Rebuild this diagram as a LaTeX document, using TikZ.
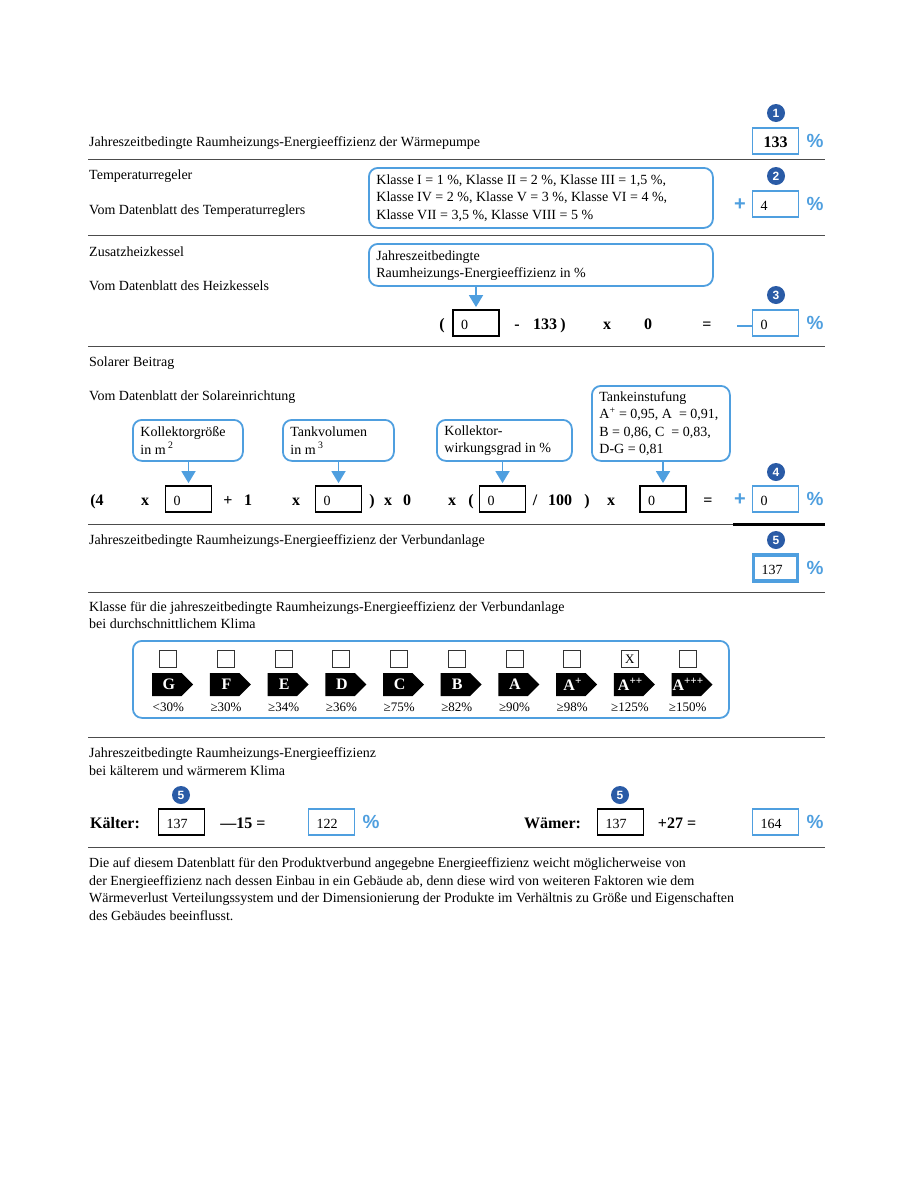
\documentclass[tikz,border=0pt]{standalone}
\usepackage{fontspec}
\setmainfont{Liberation Serif}
\newfontfamily\signfont{Liberation Sans}
\usetikzlibrary{arrows.meta,shapes.symbols}
\definecolor{sheetblue}{HTML}{4F9FDF}
\definecolor{dotblue}{HTML}{2A5BA6}
\tikzset{%
  plain/.style    = {anchor=base west, inner sep=0pt, align=left, font=\fontsize{14}{17.5}\selectfont},%
  callout/.style  = {plain, anchor=north west, align=flush left, draw=sheetblue, line width=1.8pt, rounded corners=9pt, inner xsep=7.5pt},%
  arrowline/.style= {draw=sheetblue, line width=1.8pt, -{Triangle[width=14pt,length=12pt]}, shorten >=2pt},%
  valbox/.style   = {rectangle, draw, line width=1.8pt, minimum height=26pt, inner xsep=8pt, inner ysep=0pt,%
                     text width=30pt, text height=14pt, text depth=2pt, align=left, font=\fontsize{14}{15}\selectfont},%
  bluebox/.style  = {valbox, draw=sheetblue},%
  blackbox/.style = {valbox, draw=black},%
  numdot/.style   = {circle, fill=dotblue, text=white, inner sep=0pt, minimum size=18pt, font=\fontsize{12}{12}\bfseries\signfont},%
  percent/.style  = {text=sheetblue, inner sep=0pt, font=\fontsize{19}{19}\bfseries\signfont},%
  bluesign/.style = {text=sheetblue, inner sep=0pt, font=\fontsize{20}{20}\bfseries\signfont},%
  op/.style       = {anchor=base, inner sep=0pt, font=\fontsize{16}{16}\bfseries\selectfont},%
  rule/.style     = {draw=black!70, line width=1pt},%
  tickbox/.style  = {rectangle, draw=black!80, line width=1pt, minimum size=17pt, inner sep=0pt, font=\fontsize{12}{12}\selectfont},%
  classtag/.style = {signal, signal to=east, anchor=west, fill=black, inner sep=0pt, minimum width=41pt, minimum height=23pt},%
  tagtext/.style  = {text=white, inner sep=0pt, font=\fontsize{16}{16}\bfseries\selectfont},%
  tagpct/.style   = {inner sep=0pt, font=\fontsize{13}{13}\selectfont}%
}
\begin{document}
\begin{tikzpicture}[x=1pt,y=-1pt]
	\useasboundingbox (0,0) rectangle (906,1202);
	% rules
	\foreach \y in {159.5,235.5,346,524,592.5,737.5,847.5}
		\draw[rule] (88,\y) -- (825,\y);
	\draw[line width=3pt] (733,524) -- (825,524);
	% left texts
	\node[plain] (heatpump) at (89,146) {Jahreszeitbedingte Raumheizungs-Energieeffizienz der Wärmepumpe};
	\node[plain] (control) at (89,179) {Temperaturregeler};
	\node[plain] (controlsheet) at (89,214) {Vom Datenblatt des Temperaturreglers};
	\node[plain] (boiler) at (89,256) {Zusatzheizkessel};
	\node[plain] (boilersheet) at (89,290) {Vom Datenblatt des Heizkessels};
	\node[plain] (solar) at (89,366) {Solarer Beitrag};
	\node[plain] (solarsheet) at (89,400) {Vom Datenblatt der Solareinrichtung};
	\node[plain] (system) at (89,544) {Jahreszeitbedingte Raumheizungs-Energieeffizienz der Verbundanlage};
	\node[plain] (classtitle) at (89,628.5) {Klasse für die jahreszeitbedingte Raumheizungs-Energieeffizienz der Verbundanlage\\bei durchschnittlichem Klima};
	\node[plain] (climate) at (89,775) {Jahreszeitbedingte Raumheizungs-Energieeffizienz\\bei kälterem und wärmerem Klima};
	\node[plain, font=\fontsize{13.92}{17.5}\selectfont] (note) at (89,920) {Die auf diesem Datenblatt für den Produktverbund angegebne Energieeffizienz weicht möglicherweise von\\der Energieeffizienz nach dessen Einbau in ein Gebäude ab, denn diese wird von weiteren Faktoren wie dem\\Wärmeverlust Verteilungssystem und der Dimensionierung der Produkte im Verhältnis zu Größe und Eigenschaften\\des Gebäudes beeinflusst.};
	% callouts
	\node[callout, text width=329pt, minimum height=60pt] (callclass) at (368,167) {Klasse I = 1 \%, Klasse II = 2 \%, Klasse III = 1,5 \%,\\Klasse IV = 2 \%, Klasse V = 3 \%, Klasse VI = 4 \%,\\Klasse VII = 3,5 \%, Klasse VIII = 5 \%};
	\node[callout, text width=329pt, minimum height=42pt, text height=11pt] (calleff) at (368,243) {Jahreszeitbedingte\\Raumheizungs-Energieeffizienz in \%};
	\node[callout, text width=95pt, minimum height=41pt] (callsize) at (132,419) {Kollektorgröße\\in m\,\textsuperscript{2}};
	\node[callout, text width=96pt, minimum height=41pt] (callvol) at (282,419) {Tankvolumen\\in m\,\textsuperscript{3}};
	\node[callout, text width=120pt, minimum height=41pt] (callgrade) at (436,419) {Kollektor-\\wirkungsgrad in \%};
	\node[callout, text width=123pt, minimum height=75pt] (calltank) at (591,385) {Tankeinstufung\\A\textsuperscript{+} = 0,95, A~~= 0,91,\\B = 0,86, C~~= 0,83,\\D-G = 0,81};
	% value boxes
	\node[bluebox, align=center, font=\fontsize{16}{16}\bfseries\selectfont] (valheat) at (775.5,141) {133};
	\node[bluebox] (valctrl) at (775.5,204) {4};
	\node[bluebox] (valboil) at (775.5,323) {0};
	\node[bluebox] (valsolar) at (775.5,499) {0};
	\node[bluebox, line width=3.5pt, text width=28pt] (valsys) at (775.5,568) {137};
	\node[bluebox] (valcold) at (331.5,822) {122};
	\node[bluebox] (valwarm) at (775.5,822) {164};
	\node[blackbox] (boxeff) at (476,323) {0};
	\node[blackbox] (boxsize) at (188.5,499) {0};
	\node[blackbox] (boxvol) at (338.5,499) {0};
	\node[blackbox] (boxgrade) at (502.5,499) {0};
	\node[blackbox] (boxtank) at (663,499) {0};
	\node[blackbox] (boxcold) at (181.5,822) {137};
	\node[blackbox] (boxwarm) at (620.5,822) {137};
	% arrows from the callouts
	\foreach \from/\to in {calleff/boxeff,callsize/boxsize,callvol/boxvol,callgrade/boxgrade,calltank/boxtank}
		\draw[arrowline] (\from.south -| \to.north) -- (\to.north);
	% numbered dots
	\node[numdot] (dotA) at (776,113) {1};
	\node[numdot] (dotB) at (776,176) {2};
	\node[numdot] (dotC) at (776,295) {3};
	\node[numdot] (dotD) at (776,472) {4};
	\node[numdot] (dotE) at (776,540) {5};
	\node[numdot] (dotF) at (181,795) {5};
	\node[numdot] (dotG) at (620,795) {5};
	% percent signs
	\foreach \n/\px/\py in {a/815/141,b/815/204,c/815/323,d/815/499,e/815/568,f/371/822,g/815/822}
		\node[percent] (pct\n) at (\px,\py) {\%};
	\node[bluesign] (plusctrl) at (740,205) {+};
	\node[bluesign] (plussolar) at (740,500) {+};
	\coordinate (minusend) at (737,326);
	\draw[draw=sheetblue, line width=1.5pt] (minusend) -- (minusend -| valboil.west);
	% formula rows
	\foreach \n/\px/\t in {a/442/(,b/517/-,c/545/133,d/563/),e/607/x,f/648/0,g/707/=}
		\node[op] (op\n) at (\px,329) {\t};
	\foreach \n/\px/\t in {h/97/(4,i/145/x,j/228/+,k/248/1,l/296/x,m/372/),n/388/x,o/407/0,%
		p/452/x,q/471/(,r/535/{/},s/560/100,t/587/),u/611/x,v/708/=}
		\node[op] (op\n) at (\px,505) {\t};
	\node[op] (coldword) at (115,828) {Kälter:};
	\node[op] (coldcalc) at (243,828) {---15 =};
	\node[op] (warmword) at (552.5,828) {Wämer:};
	\node[op] (warmcalc) at (677,828) {+27 =};
	% class panel
	\node[callout, minimum width=596pt, minimum height=77pt] (panel) at (132,640) {};
	\foreach \i/\t/\p in {0/G/<30\%,1/F/≥30\%,2/E/≥34\%,3/D/≥36\%,4/C/≥75\%,5/B/≥82\%,6/A/≥90\%,7/A\textsuperscript{+}/≥98\%,8/A\textsuperscript{++}/≥125\%,9/A\textsuperscript{+++}/≥150\%}{
		\node[tickbox] (tick\i) at ({168.3+57.7*\i},659) {};
		\node[classtag] (tag\i) at ({152+57.7*\i},684.5) {};
		\node[tagtext] (tagname\i) at ({168.8+57.7*\i},684.5) {\t};
		\node[tagpct] (tagpct\i) at ({168.3+57.7*\i},707) {\p};
	}
	\node[tickbox, font=\fontsize{13}{13}\selectfont] (tickx) at (tick8) {X};
\end{tikzpicture}
\end{document}
